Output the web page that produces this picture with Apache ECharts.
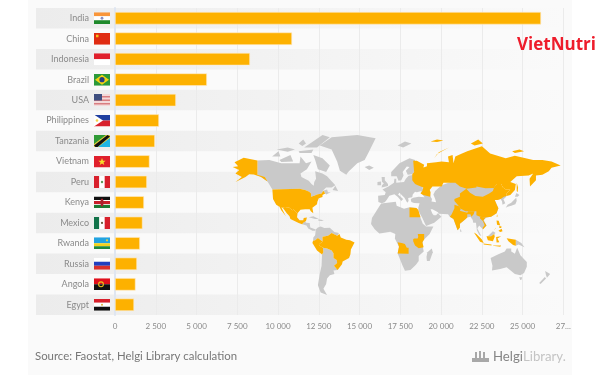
<!DOCTYPE html>
<html>
<head>
<meta charset="utf-8">
<script src="https://cdn.jsdelivr.net/npm/echarts@6/dist/echarts.min.js"></script>
<style>
  html, body { margin: 0; padding: 0; background: #fff; }
  #chart { width: 600px; height: 375px; }
</style>
</head>
<body>
<div id="chart"></div>
<script>
// chart values
const countries = ["India", "China", "Indonesia", "Brazil", "USA", "Philippines", "Tanzania", "Vietnam", "Peru", "Kenya", "Mexico", "Rwanda", "Russia", "Angola", "Egypt"];
const production = [26135, 10860, 8280, 5640, 3740, 2700, 2450, 2120, 1960, 1780, 1690, 1530, 1350, 1260, 1170];
const xTicks = [0, 2500, 5000, 7500, 10000, 12500, 15000, 17500, 20000, 22500, 25000, 27500];
const highlighted = ["India", "China", "Indonesia", "Brazil", "USA", "Philippines", "TanzaniaKenyaRwanda", "Vietnam", "Peru", "Mexico", "Russia", "Angola", "Egypt"];

const ORANGE = "#fdb100";
const LAND = "#c9c9c9";

// small flags, 16x12
const r = (x, y, w, h, c) => `<rect x="${x}" y="${y}" width="${w}" height="${h}" fill="${c}"/>`;
const flags = {
  India: r(0, 0, 16, 4, "#f9963a") + r(0, 4, 16, 4, "#fff") + r(0, 8, 16, 4, "#1f8a2c") + '<circle cx="8" cy="6" r="1.4" fill="#8a8fc0"/>',
  China: r(0, 0, 16, 12, "#e02c12") + r(2, 2, 2.5, 2.5, "#f6c21c"),
  Indonesia: r(0, 0, 16, 6, "#e0202c") + r(0, 6, 16, 6, "#fff"),
  Brazil: r(0, 0, 16, 12, "#2c9a3a") + '<path d="M8 1L15 6L8 11L1 6Z" fill="#f5d312"/><circle cx="8" cy="6" r="2.6" fill="#27407f"/>',
  USA: r(0, 0, 16, 12, "#f3d9d9") + r(0, 2, 16, 1.5, "#d97d80") + r(0, 5.5, 16, 1.5, "#d97d80") + r(0, 9, 16, 1.5, "#d97d80") + r(0, 0, 8, 6.5, "#3f4f80"),
  Philippines: r(0, 0, 16, 6, "#1f3fa0") + r(0, 6, 16, 6, "#d8202c") + '<path d="M0 0L9 6L0 12Z" fill="#fff"/><circle cx="3" cy="6" r="1.3" fill="#f6d34a"/>',
  Tanzania: '<path d="M0 0H16L0 12Z" fill="#2f9a35"/><path d="M16 12H0L16 0Z" fill="#1eb5e6"/><path d="M0 12L0 9L12 0L16 0L16 3L4 12Z" fill="#e9d23c"/><path d="M1.5 12L0 10.5L13.5 0L16 1.5L3.5 12Z" fill="#111"/>',
  Vietnam: r(0, 0, 16, 12, "#e0202c") + '<path d="M8 2.5L9 5.2H11.6L9.5 6.9L10.3 9.6L8 8L5.7 9.6L6.5 6.9L4.4 5.2H7Z" fill="#f8dc2c"/>',
  Peru: r(0, 0, 5.3, 12, "#d8202c") + r(5.3, 0, 5.4, 12, "#fff") + r(10.7, 0, 5.3, 12, "#d8202c") + '<circle cx="8" cy="6" r="1.2" fill="#5f9a5a"/>',
  Kenya: r(0, 0, 16, 4, "#111") + r(0, 4, 16, 4, "#c8202c") + r(0, 8, 16, 4, "#1c7a34") + r(0, 3.6, 16, 0.9, "#fff") + r(0, 7.5, 16, 0.9, "#fff") + '<ellipse cx="8" cy="6" rx="1.5" ry="4" fill="#a8202c"/>',
  Mexico: r(0, 0, 5.3, 12, "#12734a") + r(5.3, 0, 5.4, 12, "#fff") + r(10.7, 0, 5.3, 12, "#d8202c") + '<circle cx="8" cy="6" r="1.1" fill="#6a5a3a"/>',
  Rwanda: r(0, 0, 16, 6, "#22a3e0") + r(0, 6, 16, 3, "#f3d21c") + r(0, 9, 16, 3, "#1f8a3c") + '<circle cx="13" cy="3" r="1.1" fill="#e9d23c"/>',
  Russia: r(0, 0, 16, 4, "#fff") + r(0, 4, 16, 4, "#1f3fc0") + r(0, 8, 16, 4, "#d8302c"),
  Angola: r(0, 0, 16, 6, "#e0101c") + r(0, 6, 16, 6, "#111") + '<circle cx="7" cy="6" r="2.4" fill="none" stroke="#e9c21c" stroke-width="1.1"/>',
  Egypt: r(0, 0, 16, 4, "#d8202c") + r(0, 4, 16, 4, "#fff") + r(0, 8, 16, 4, "#111") + '<circle cx="8" cy="6" r="1" fill="#d8b23c"/>'
};
const flagUri = (name) => "data:image/svg+xml;charset=utf-8," + encodeURIComponent(
  `<svg xmlns="http://www.w3.org/2000/svg" width="16" height="12" viewBox="0 0 16 12">${flags[name]}</svg>`
);

// rough world outline, lon/lat. gray land first, orange countries drawn on top
const worldRegions = {
  Canada: [
    [[-141,69.6],[-128,70],[-115,68],[-108,68],[-95,68],[-94,72],[-88,68],[-82,69],[-87,64],[-94,61],[-93,58.5],[-85,55.5],[-82,53],[-79.5,51.5],[-79,54.5],[-77,57],[-78,62.5],[-70,61],[-65,59],[-61,56],[-56,52],[-60,50],[-66,50],[-70,47],[-65,48.5],[-64,46],[-61,46],[-66,44],[-67,45],[-69,47.3],[-71,45],[-76,44],[-79,43],[-82.5,42],[-82.5,45],[-84.5,46.5],[-89,48],[-95,49],[-124.7,48.4],[-130,55],[-137,58.5],[-141,60]],
    [[-80,73],[-70,71],[-62,66.5],[-66,62],[-75,64],[-78,70]],
    [[-90,77],[-70,83],[-62,82],[-76,77]],
    [[-117,70],[-105,73],[-102,69],[-115,68.7]],
    [[-125,72],[-118,75],[-116,72]],
    [[-96,75],[-80,76],[-82,74],[-95,74]],
    [[-120,76],[-108,77],[-100,76],[-108,74.8]],
    [[-96,79],[-91,81],[-88,79],[-92,77.8]],
    [[-59,48],[-56,51.5],[-53,47]]
  ],
  Greenland: [[[-73,78],[-60,82],[-32,83],[-12,81.5],[-20,74],[-24,70],[-32,68],[-42,62],[-44,60],[-51,63],[-54,69],[-60,76]]],
  CentralAmerica: [
    [[-92.2,14.5],[-91,16],[-89,17.8],[-88,18],[-88,16],[-84,15.8],[-83.3,11],[-79.5,9.5],[-77.4,8.7],[-78,7.5],[-81,7.5],[-85.5,10],[-87.5,13]],
    [[-85,22],[-80,23],[-74,20],[-78,20]],
    [[-74.5,19.8],[-68.5,18.7],[-71,18],[-74.5,18.3]]
  ],
  NorthSouthAmerica: [[[-77.4,8.7],[-75,11],[-72,12],[-68,10.5],[-62,10.7],[-57,6],[-52,5],[-51.5,4],[-54,2],[-60,5],[-64,2],[-67,1.5],[-70,1],[-70,-4.2],[-75,-0.5],[-78,-3],[-80.3,-3.4],[-80,0],[-78,2.5],[-77.5,7]]],
  SouthCone: [[[-69,-16],[-69.5,-11],[-65,-12],[-60,-14],[-58,-17],[-58,-22],[-54.5,-24],[-54,-27],[-57.5,-30],[-53.5,-34],[-58,-34.5],[-57,-38],[-62,-39],[-65,-42],[-66,-47],[-69,-51],[-65,-56],[-72,-54],[-75,-48],[-73,-38],[-71,-30],[-70.5,-18.3]]],
  Africa: [[[-6,35.8],[10,37.3],[11,33.5],[19,30.5],[25,32],[32.5,31.2],[34,28],[37,21],[39.5,15],[43,12],[51,12],[47,4],[40,-3],[39,-7],[40.5,-15],[35,-20],[35,-25],[32,-29],[26,-34],[20,-34.8],[17,-29],[12,-17],[13.5,-10],[9,-1],[9.5,4],[4,6.3],[-4,5],[-8,4.5],[-13,9],[-17,14.7],[-16,21],[-10,30]]],
  Madagascar: [[[49.3,-12],[50.4,-16],[47,-25],[44,-25],[43.5,-21],[44.5,-16]]],
  Europe: [[[-9,37],[-9.3,43],[-2,43.5],[-1,46],[-4.5,48.5],[2,51],[8,54],[8.5,57],[10.5,57],[10.5,54],[19,54.5],[21,57],[24,59.3],[30,60],[38,55],[40,47],[37,46.8],[33,46],[31,46.5],[28.5,44],[28,41.5],[23.5,40.8],[24,38],[22.5,36.5],[19.5,41],[14,45.5],[12.5,44],[18,40],[16,38],[12,42],[8.5,44.3],[3,43],[0,39],[-2,36.8],[-5.5,36]]],
  Scandinavia: [[[5,59],[5,62],[14,68],[25,71],[31,70],[30,62],[28,60.5],[23,60],[21,63],[25,65.5],[22,65.8],[17.5,62],[18.5,59.5],[16,56],[13,55.5],[11,59]]],
  Islands: [
    [[-5.5,50],[1.5,51.3],[1.5,53],[-2,56],[-2,58.5],[-5.5,58.5],[-5,54.5],[-3,53.5],[-5,52]],
    [[-10,52],[-6,52],[-6,55],[-10,54.5]],
    [[-24,65.5],[-19,66.5],[-14,65],[-19,63.5]],
    [[12,78],[20,80],[27,79],[18,77]],
    [[80,9.5],[82,7],[80.5,6]]
  ],
  Asia: [[[26.5,39],[26.5,40],[29,41],[35,42],[41.5,41.5],[37,46],[40,48],[47,48],[47.5,45],[48,42],[49.5,40],[49,37.5],[54,36.8],[53,40],[51,44],[53,47],[60,52],[75,56],[90,52],[120,52],[131,43],[129.5,41],[127.5,39.7],[129.5,36],[126.5,34.5],[126,37.5],[124.5,40],[121,39],[118,39],[120,35],[122,31],[120,26],[114,22.5],[109,21.5],[106,19],[109,13],[105,9],[101,13],[100,13.5],[99,10],[103.5,1.5],[101,3],[98.5,8],[97.5,16],[94.5,16],[94,19],[91.5,22.5],[88,21.5],[85,19],[80,15],[80,11],[77.5,8],[73,20],[69,22.5],[67,25],[57,25.5],[56,27],[50,30],[48,30],[50,25.5],[51.5,24],[54,24],[56,26],[59.8,22.5],[52,16],[43,12.7],[39,21],[35,28],[34.5,31.5],[36,36],[30,36.2],[27,37]]],
  Japan: [
    [[130,31.5],[132,34.5],[136,36.5],[140,40],[141.5,41],[142,38],[140.5,35],[136,33.5],[132,32.5]],
    [[140,42],[141.7,45.4],[145,43.5],[143,42]]
  ],
  MalaysiaBorneo: [[[109.5,1.5],[111,2],[116,7],[119,5],[117.5,4],[114,1.5]]],
  NewGuinea: [[[141,-2.5],[147,-6],[150.5,-10.5],[144,-7.5],[141,-9]]],
  Australia: [
    [[113.5,-22],[122,-18],[129,-15],[131,-12],[136,-12],[136,-15],[140,-17.5],[142.5,-11],[146,-19],[153,-26],[153,-31],[150,-37],[146,-39],[140,-38],[136,-35],[131,-31.5],[124,-33],[115,-34.5],[115.5,-30]],
    [[144.7,-41],[148,-41],[147,-43.5],[146,-43.5]]
  ],
  NewZealand: [
    [[173,-35],[178.5,-38],[175,-41.5],[174,-39]],
    [[172.7,-40.6],[174,-42],[168,-47],[166.5,-46]]
  ],
  USA: [
    [[-141,69.6],[-156,71.3],[-166,68.5],[-162,66],[-168,65.5],[-161,63.5],[-165,61],[-158,58.5],[-165,54.5],[-154,58.5],[-150,60.5],[-145,60.3],[-137,58.5],[-130,55],[-133,58.5],[-141,60]],
    [[-124.7,48.4],[-95,49],[-89,48],[-84.5,46.5],[-82.5,45],[-82.5,42],[-79,43],[-76,44],[-71,45],[-69,47.3],[-67,45],[-70,43.5],[-70,41.7],[-74,40.6],[-75.5,37.5],[-76,35],[-81,31.5],[-80,26],[-81,25],[-82.8,28],[-84,30],[-89,30],[-90,29],[-94,29.5],[-97.2,26],[-99.5,27.5],[-101.5,29.8],[-103,29],[-106.5,31.8],[-111,31.3],[-117,32.5],[-120.5,34.5],[-124,40]],
    [[-156,20.3],[-155,19.5],[-156,19]]
  ],
  Mexico: [[[-117,32.5],[-111,31.3],[-106.5,31.8],[-103,29],[-101.5,29.8],[-99.5,27.5],[-97.2,26],[-97.8,22],[-95,18.6],[-91,18.6],[-90.5,21],[-87,21.5],[-88,18],[-89,17.8],[-91,16],[-92.2,14.5],[-96,15.8],[-105,20],[-106,23],[-109,26],[-113,31],[-114.7,31.5],[-110,23],[-112,25.5],[-115,29]]],
  Brazil: [[[-51.5,4],[-50,0],[-44,-2.5],[-40,-3],[-35,-5.5],[-39,-13],[-39.5,-18],[-41,-22],[-48,-25.5],[-48.7,-28.5],[-53.5,-34],[-57.5,-30],[-54,-27],[-54.5,-24],[-58,-22],[-58,-17],[-60,-14],[-65,-12],[-69.5,-11],[-73,-9],[-74,-7.5],[-70,-4.2],[-70,1],[-67,1.5],[-64,2],[-60,5],[-54,2]]],
  Peru: [[[-75,-0.5],[-70,-4.2],[-74,-7.5],[-73,-9],[-69.5,-11],[-69,-16],[-70.5,-18.3],[-76,-14],[-81,-6],[-80.3,-3.4],[-78,-3]]],
  Egypt: [[[25,31.7],[32.5,31.2],[34.5,29.5],[37,22],[25,22]]],
  TanzaniaKenyaRwanda: [[[34,4],[41,4],[41,-2],[39,-5],[39.5,-7],[40.4,-10.5],[35,-11.5],[31,-8.5],[29,-4],[29,-1.5],[30.5,-1],[33.9,-1],[34.5,1]]],
  Angola: [[[12,-5],[13,-6],[16.5,-6],[20,-7],[22,-11],[24,-11],[24,-17.5],[12,-17.2],[13.5,-10]]],
  Russia: [
    [[28,60.5],[30,62],[29,69.5],[33,69.5],[41,67],[40,65],[35,64],[44,66],[44,68],[54,68.5],[60,69],[68,68.5],[67,72],[72,73],[73,68],[75,72],[81,73.5],[88,75],[104,77.7],[113,73.8],[130,71],[140,72.5],[160,70],[170,70],[180,69],[190,66.5],[180,65],[177,62.5],[170,60],[163,59.5],[163,56],[156.5,51],[156,57],[160,61],[155,59.5],[142,59],[135,54.5],[141,53],[140,48],[135,43.5],[131,42.7],[131,45],[135,48.3],[130,48.5],[127,50],[125,53],[120,53],[117,49.7],[108,49.5],[98,51],[98,50],[87.5,49],[80,51],[75,54],[62,54],[60,51],[50,51],[47,48],[48,46],[47.5,42],[40,43.5],[37,45],[39,47],[40,50],[34,52],[31,53],[28,56]],
    [[142,54],[143.5,50],[143,46],[142,47]],
    [[52,71],[55,73.5],[68,77],[57,74.5]],
    [[48,80],[55,81],[62,80.5],[55,79.8]],
    [[92,79],[100,81],[105,79],[96,78]],
    [[137,75],[145,76],[150,75],[140,74]]
  ],
  China: [
    [[135,48.3],[131,45],[131,42.7],[128,42],[124.5,40],[121,39],[118,39],[120,35],[122,31],[120,26],[114,22.5],[108,21.6],[102,22.5],[98,24],[98,28],[92,28],[86,28],[81,30.5],[79,33],[74,38],[74,40],[80,42],[80,45],[87,49],[91,45.5],[97,42.7],[105,42],[112,45],[116,47],[117,49.7],[120,53],[125,53],[127,50],[130,48.5]],
    [[121,25],[122,24],[120.8,22],[120,23]]
  ],
  India: [[[74,34.5],[79,33],[81,30.5],[80,28.5],[88,26.5],[89,28],[96,28],[95,25],[92.5,22.5],[91.5,25],[88,25],[88,21.5],[85,19],[80,15],[80,11],[77.5,8],[73,20],[69,22.5],[71,25],[74,31]]],
  Vietnam: [[[102,22.5],[108,21.6],[105.5,18.5],[109,13],[105,8.7],[105,11],[107,13.5],[105,18],[102,20.5]]],
  Philippines: [
    [[120,18.5],[122.3,18.3],[124,13],[120.5,14]],
    [[122,7.5],[125.5,9.7],[126.5,7],[124,6]],
    [[123,12.5],[125.5,12],[125,10.5],[123,10.5]],
    [[117,8],[119.5,11],[119,10]]
  ],
  Indonesia: [
    [[95.3,5.5],[98,4],[104,-2],[106,-6],[102,-4.5]],
    [[105.5,-6.5],[114.5,-7.5],[114.5,-8.7],[106,-7.5]],
    [[109,1.5],[114,1.5],[117.5,4],[118,1],[116,-4],[110.5,-3]],
    [[119.5,0.5],[125,1.5],[121,-1],[123,-5],[120,-5.5]],
    [[131,-0.8],[141,-2.5],[141,-9],[138,-8],[133,-4]],
    [[116,-8.5],[125,-8.5],[124,-10],[116,-9]]
  ]
};

const worldGeo = {
  type: "FeatureCollection",
  features: Object.keys(worldRegions).map((name) => ({
    type: "Feature",
    properties: { name },
    geometry: { type: "MultiPolygon", coordinates: worldRegions[name].map((ring) => [ring]) }
  }))
};
echarts.registerMap("world", worldGeo);

// the original map uses a Miller style projection
const DEG = Math.PI / 180;
const millerProjection = {
  project: ([lon, lat]) => [lon, -1.25 * Math.log(Math.tan(Math.PI / 4 + 0.4 * lat * DEG)) / DEG],
  unproject: ([x, y]) => [x, (2.5 * Math.atan(Math.exp(-y * DEG * 0.8)) - 0.625 * Math.PI) / DEG]
};

const rich = {
  name: { color: "#8a8a8a", fontSize: 9, fontFamily: "Lato", align: "right", padding: [0, 5, 0, 0] }
};
countries.forEach((c, i) => {
  rich["f" + i] = { width: 16, height: 12, backgroundColor: { image: flagUri(c) } };
});

const chart = echarts.init(document.getElementById("chart"), null, { renderer: "canvas" });

const option = {
  animation: false,
  backgroundColor: "#fff",
  grid: { left: 115, top: 8, width: 448.3, height: 307, containLabel: false },
  geo: {
    map: "world",
    projection: millerProjection,
    silent: true,
    z: 1,
    left: 232.7,
    top: 135,
    width: 328,
    height: 160,
    itemStyle: { areaColor: LAND, borderWidth: 0 },
    regions: highlighted.map((name) => ({ name, itemStyle: { areaColor: ORANGE } }))
  },
  xAxis: {
    type: "value",
    min: 0,
    max: 27500,
    interval: 2500,
    z: -1,
    axisLine: { show: false },
    axisTick: { show: false },
    axisLabel: {
      color: "#8a8a8a",
      fontSize: 8,
      fontFamily: "Lato",
      margin: 7,
      customValues: xTicks,
      formatter: (v) => (v === 27500 ? "27..." : String(v).replace(/\B(?=(\d{3})+$)/g, " "))
    },
    splitLine: { show: true, lineStyle: { color: "#ebebeb", width: 1 } }
  },
  yAxis: {
    type: "category",
    data: countries,
    inverse: true,
    axisLine: { show: true, lineStyle: { color: "#dfe6f1", width: 2 } },
    axisTick: { show: false },
    axisLabel: {
      margin: 5,
      interval: 0,
      formatter: (value, i) => `{name|${value}}{f${i}|}`,
      rich
    }
  },
  series: [
    {
      // alternating row bands, they run on under the labels
      type: "custom",
      z: -2,
      silent: true,
      data: countries.map((c, i) => [0, i]),
      encode: { x: 0, y: 1 },
      renderItem: (params, api) => {
        const i = api.value(1);
        if (i % 2 === 1) return { type: "group", children: [] };
        const y = api.coord([0, i])[1];
        const h = api.size([0, 1])[1];
        const right = params.coordSys.x + params.coordSys.width;
        return {
          type: "rect",
          shape: { x: 36, y: y - h / 2, width: right - 36, height: h },
          style: {
            fill: new echarts.graphic.LinearGradient(0, 0, 1, 0, [
              { offset: 0, color: "#ececec" },
              { offset: 1, color: "#fafafa" }
            ])
          }
        };
      }
    },
    {
      type: "bar",
      z: 3,
      data: production,
      barWidth: 12.5,
      itemStyle: { color: ORANGE, borderColor: "#ffeccb", borderWidth: 0.6 },
      silent: true
    }
  ],
  graphic: [
    { type: "rect", z: -10, shape: { x: 28, y: 0, width: 544, height: 375 }, style: { fill: "#fafafa" } },
    { type: "text", z: 10, x: 35, y: 351, style: { text: "Source: Faostat, Helgi Library calculation", fill: "#777", fontSize: 11.4, fontFamily: "Lato" } },
    { type: "text", z: 10, x: 517, y: 37, style: { text: "VietNutri", fill: "#ee1c2b", fontSize: 17, fontWeight: "bold", fontFamily: "Open Sans" } },
    {
      type: "text", z: 10, x: 493, y: 350,
      style: {
        text: "{a|Helgi}{b|Library.}",
        rich: {
          a: { fill: "#858585", fontSize: 13.2, fontFamily: "Lato" },
          b: { fill: "#c4c4c4", fontSize: 13.2, fontFamily: "Lato" }
        }
      }
    },
    { type: "rect", z: 10, shape: { x: 472, y: 358, width: 17, height: 4 }, style: { fill: "#a8a8a8" } },
    { type: "rect", z: 10, shape: { x: 475, y: 352, width: 2, height: 6 }, style: { fill: "#a8a8a8" } },
    { type: "rect", z: 10, shape: { x: 479, y: 351, width: 2, height: 7 }, style: { fill: "#a8a8a8" } },
    { type: "rect", z: 10, shape: { x: 483, y: 352, width: 2, height: 6 }, style: { fill: "#a8a8a8" } }
  ]
};

chart.setOption(option);
</script>
</body>
</html>
